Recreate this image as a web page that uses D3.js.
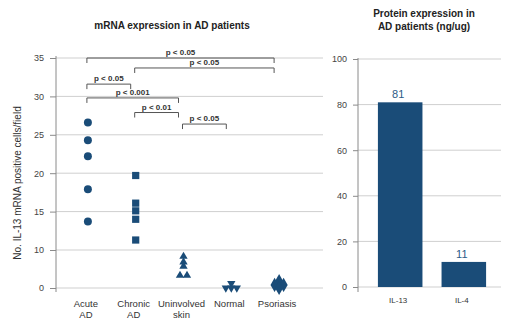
<!DOCTYPE html>
<html>
<head>
<meta charset="utf-8">
<script src="https://cdn.jsdelivr.net/npm/d3@7"></script>
<style>
  body { margin: 0; background: #fff; }
  text { font-family: "Liberation Sans", Arial, sans-serif; }
</style>
</head>
<body>
<div id="chart"></div>
<script>
// mRNA counts per group (IL-13 positive cells / field)
const categories = ["Acute AD", "Chronic AD", "Uninvolved skin", "Normal", "Psoriasis"];
const acuteAD = [26.6, 24.3, 22.2, 17.9, 13.7];
const chronicAD = [19.7, 16.1, 15.1, 14.0, 11.3];
const uninvolvedSkin = [8.3, 6.8, 5.7, 3.3, 3.3];
const normalSkin = [1.2, 0, 0, 0];
const psoriasis = [1.8, 0.8, 0.8, 0];
const mrnaTicks = [0, 10, 15, 20, 25, 30, 35];

// significance brackets: group indices, label, bracket height in data units
const comparisons = [
  { from: 0, to: 4, label: "p < 0.05", level: 35 },
  { from: 1, to: 4, label: "p < 0.05", level: 33.7 },
  { from: 0, to: 1, label: "p < 0.05", level: 31.6 },
  { from: 0, to: 2, label: "p < 0.001", level: 29.8 },
  { from: 1, to: 2, label: "p < 0.01", level: 27.9 },
  { from: 2, to: 3, label: "p < 0.05", level: 26.4 }
];

// protein levels (ng/ug)
const proteins = ["IL-13", "IL-4"];
const proteinValues = [81, 11];
const proteinTicks = [0, 20, 40, 60, 80, 100];

const width = 513, height = 322;
const blue = "#1a4c78";
const gridColor = "#cfcfcf";
const axisColor = "#8a8a8a";
const tickText = "#444";

const svg = d3.select("#chart").append("svg")
    .attr("width", width)
    .attr("height", height);

// ---- left panel: scatter of mRNA counts ----
const groups = [acuteAD, chronicAD, uninvolvedSkin, normalSkin, psoriasis];
const shapes = [d3.symbolCircle, d3.symbolSquare, d3.symbolTriangle, d3.symbolTriangle, d3.symbolDiamond];
const sizes = [50, 52, 30, 30, 58];
const spread = [7, 7, 7, 5.5, 9];

const x = d3.scaleBand().domain(categories).range([64, 303]);
// the axis skips 5, so the bottom segment 0..10 takes one grid step
const y = d3.scaleLinear().domain([0, 10, 35]).range([288, 250, 58]);

const left = svg.append("g");

left.append("g")
  .selectAll("line")
  .data(mrnaTicks)
  .join("line")
    .attr("x1", 56).attr("x2", 323)
    .attr("y1", d => y(d)).attr("y2", d => y(d))
    .attr("stroke", gridColor);

const yAxis = left.append("g")
    .attr("transform", "translate(56,0)")
    .call(d3.axisLeft(y).tickValues(mrnaTicks).tickSize(6).tickPadding(6));
yAxis.select(".domain").remove();
yAxis.selectAll(".tick line").attr("stroke", axisColor);
yAxis.selectAll(".tick text").attr("fill", tickText).attr("font-size", 9)
    .attr("font-family", "Liberation Sans, Arial, sans-serif");

left.append("line")
    .attr("x1", 56).attr("x2", 56)
    .attr("y1", 56).attr("y2", 292)
    .attr("stroke", axisColor);

// spread equal values side by side so none hide behind each other
function dodge(values, step) {
  const counts = d3.rollup(values, v => v.length, v => v);
  const seen = new Map();
  return values.map(v => {
    const n = counts.get(v);
    const i = seen.get(v) || 0;
    seen.set(v, i + 1);
    return { value: v, offset: (i - (n - 1) / 2) * step };
  });
}

groups.forEach((vals, gi) => {
  const cx = x(categories[gi]) + x.bandwidth() / 2;
  const flip = categories[gi] === "Normal" ? 180 : 0;
  left.append("g")
    .selectAll("path")
    .data(dodge(vals, spread[gi]))
    .join("path")
      .attr("d", d3.symbol(shapes[gi], sizes[gi]))
      .attr("transform", d => `translate(${cx + d.offset},${y(d.value)}) rotate(${flip})`)
      .attr("fill", blue);
});

// category labels, split into lines
const xl = left.append("g");
categories.forEach(c => {
  const words = c.split(" ");
  const cx = x(c) + x.bandwidth() / 2 - 2;
  const t = xl.append("text")
      .attr("y", 307)
      .attr("text-anchor", "middle")
      .attr("font-size", 9.5)
      .attr("fill", "#333");
  words.forEach((w, i) => t.append("tspan")
      .attr("x", cx)
      .attr("dy", i === 0 ? 0 : 11)
      .text(w));
});

// significance brackets
const br = left.append("g");
comparisons.forEach(c => {
  const x1 = x(categories[c.from]) + x.bandwidth() / 2 - 1;
  const x2 = x(categories[c.to]) + x.bandwidth() / 2 - 5;
  const by = y(c.level);
  br.append("path")
      .attr("d", `M${x1},${by + 5}V${by}H${x2}V${by + 5}`)
      .attr("fill", "none")
      .attr("stroke", "#555")
      .attr("stroke-width", 1);
  br.append("text")
      .attr("x", (x1 + x2) / 2)
      .attr("y", by - 3)
      .attr("text-anchor", "middle")
      .attr("font-size", 8)
      .attr("font-weight", "bold")
      .attr("fill", "#333")
      .text(c.label);
});

left.append("text")
    .attr("x", 172).attr("y", 29)
    .attr("text-anchor", "middle")
    .attr("font-size", 10)
    .attr("font-weight", "bold")
    .attr("fill", "#222")
    .text("mRNA expression in AD patients");

left.append("text")
    .attr("transform", "translate(21,183) rotate(-90)")
    .attr("text-anchor", "middle")
    .attr("font-size", 10)
    .attr("fill", "#333")
    .text("No. IL-13 mRNA positive cells/field");

// ---- right panel: protein bars ----
const xr = d3.scaleBand().domain(proteins).range([362, 502])
    .paddingInner(0.3).paddingOuter(0.25);
const yr = d3.scaleLinear().domain([0, 100]).range([287, 59]);

const right = svg.append("g");

right.append("g")
  .selectAll("line")
  .data(proteinTicks)
  .join("line")
    .attr("x1", 358).attr("x2", 501)
    .attr("y1", d => yr(d)).attr("y2", d => yr(d))
    .attr("stroke", gridColor);

const yrAxis = right.append("g")
    .attr("transform", "translate(358,0)")
    .call(d3.axisLeft(yr).tickValues(proteinTicks).tickSize(5).tickPadding(6));
yrAxis.select(".domain").remove();
yrAxis.selectAll(".tick line").attr("stroke", axisColor);
yrAxis.selectAll(".tick text").attr("fill", tickText).attr("font-size", 9)
    .attr("font-family", "Liberation Sans, Arial, sans-serif");

right.append("line")
    .attr("x1", 358).attr("x2", 358)
    .attr("y1", 58).attr("y2", 292)
    .attr("stroke", axisColor);

right.append("g")
  .selectAll("rect")
  .data(proteins)
  .join("rect")
    .attr("x", d => xr(d))
    .attr("width", xr.bandwidth())
    .attr("y", (d, i) => yr(proteinValues[i]))
    .attr("height", (d, i) => yr(0) - yr(proteinValues[i]))
    .attr("fill", blue);

right.append("g")
  .selectAll("text")
  .data(proteins)
  .join("text")
    .attr("x", d => xr(d) + xr.bandwidth() / 2 - 2)
    .attr("y", (d, i) => yr(proteinValues[i]) - 4)
    .attr("text-anchor", "middle")
    .attr("font-size", 11)
    .attr("fill", "#2c5b86")
    .text((d, i) => proteinValues[i]);

right.append("g")
  .selectAll("text")
  .data(proteins)
  .join("text")
    .attr("x", d => xr(d) + xr.bandwidth() / 2 - 2)
    .attr("y", 303)
    .attr("text-anchor", "middle")
    .attr("font-size", 8)
    .attr("fill", "#333")
    .text(d => d);

const rt = right.append("text")
    .attr("text-anchor", "middle")
    .attr("font-size", 10)
    .attr("font-weight", "bold")
    .attr("fill", "#222");
rt.append("tspan").attr("x", 424).attr("y", 17).text("Protein expression in");
rt.append("tspan").attr("x", 424).attr("y", 30).text("AD patients (ng/ug)");
</script>
</body>
</html>
